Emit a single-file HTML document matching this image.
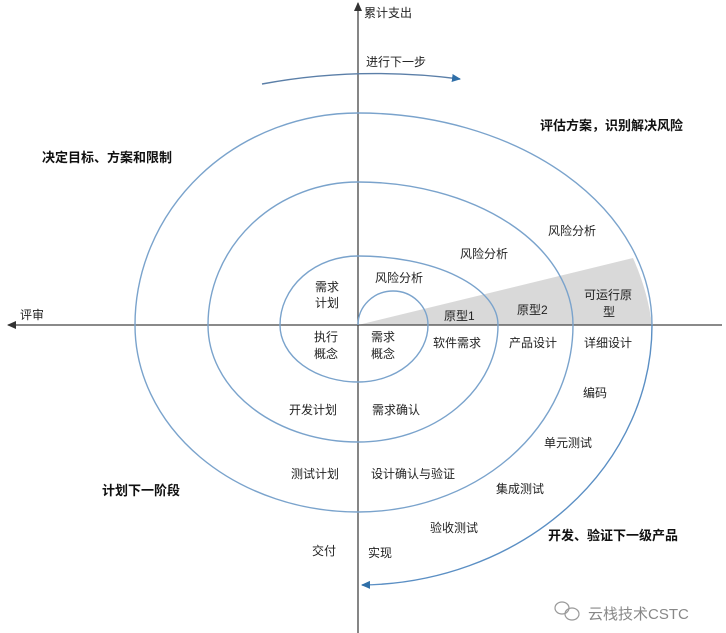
<!DOCTYPE html>
<html><head><meta charset="utf-8"><style>
body{margin:0;background:#fff;}
svg{display:block}
text{font-family:"Liberation Sans","Noto Sans CJK SC",sans-serif;font-size:12px;fill:#222;}
.b{font-weight:bold;font-size:13px;fill:#111;}
</style></head><body>
<svg width="726" height="633" viewBox="0 0 726 633">
<defs>
<marker id="ab" markerWidth="10" markerHeight="10" refX="8" refY="5" orient="auto" markerUnits="userSpaceOnUse"><path d="M0,1 L9,5 L0,9 z" fill="#2f6fa8"/></marker>
<marker id="ak" markerWidth="10" markerHeight="10" refX="8" refY="5" orient="auto" markerUnits="userSpaceOnUse"><path d="M0,1 L9,5 L0,9 z" fill="#333"/></marker>
</defs>
<!-- shaded wedge -->
<path d="M358,325 L633,258 A294,260 0 0 1 652,325 Z" fill="#d9d9d9"/>
<!-- axes -->
<line x1="358" y1="633" x2="358" y2="3" stroke="#444" stroke-width="1.3" marker-end="url(#ak)"/>
<line x1="722" y1="325" x2="8" y2="325" stroke="#444" stroke-width="1.3" marker-end="url(#ak)"/>
<!-- spiral -->
<g fill="none" stroke="#7aa3cc" stroke-width="1.4">
<path d="M358,325 A35,34 0 0 1 428,325 A70,57 0 0 1 358,382 A78,57 0 0 1 280,325 A78,69 0 0 1 358,256 A140,69 0 0 1 498,325 A140,117 0 0 1 358,442 A150,117 0 0 1 208,325 A150,143 0 0 1 358,182 A215,143 0 0 1 573,325 A215,187 0 0 1 358,512 A223,187 0 0 1 135,325 A223,212 0 0 1 358,113 A294,212 0 0 1 652,325"/>
<path d="M652,325 A294,260 0 0 1 362,585" stroke="#5b8fc4" marker-end="url(#ab)"/>
<path d="M262,84 Q358,66 460,79" stroke="#5b7fa8" marker-end="url(#ab)"/>
</g>
<text x="364" y="17">累计支出</text>
<text x="366" y="66">进行下一步</text>
<text class="b" x="540" y="130">评估方案，识别解决风险</text>
<text class="b" x="42" y="162">决定目标、方案和限制</text>
<text x="548" y="235">风险分析</text>
<text x="460" y="258">风险分析</text>
<text x="375" y="282">风险分析</text>
<text x="315" y="291">需求</text><text x="315" y="307">计划</text>
<text x="444" y="320">原型1</text>
<text x="517" y="314">原型2</text>
<text x="584" y="299">可运行原</text><text x="603" y="316">型</text>
<text x="20" y="319">评审</text>
<text x="314" y="341">执行</text><text x="314" y="358">概念</text>
<text x="371" y="341">需求</text><text x="371" y="358">概念</text>
<text x="433" y="347">软件需求</text>
<text x="509" y="347">产品设计</text>
<text x="584" y="347">详细设计</text>
<text x="583" y="397">编码</text>
<text x="289" y="414">开发计划</text>
<text x="372" y="414">需求确认</text>
<text x="544" y="447">单元测试</text>
<text x="291" y="478">测试计划</text>
<text x="371" y="478">设计确认与验证</text>
<text x="496" y="493">集成测试</text>
<text class="b" x="102" y="495">计划下一阶段</text>
<text x="430" y="532">验收测试</text>
<text class="b" x="548" y="540">开发、验证下一级产品</text>
<text x="312" y="555">交付</text>
<text x="368" y="557">实现</text>
<g fill="none" stroke="#999" stroke-width="1.2"><ellipse cx="562" cy="608" rx="7" ry="6"/><ellipse cx="572" cy="614" rx="7" ry="6"/></g>
<text x="588" y="619" style="font-size:15px;fill:#888">云栈技术CSTC</text>
</svg>
</body></html>
